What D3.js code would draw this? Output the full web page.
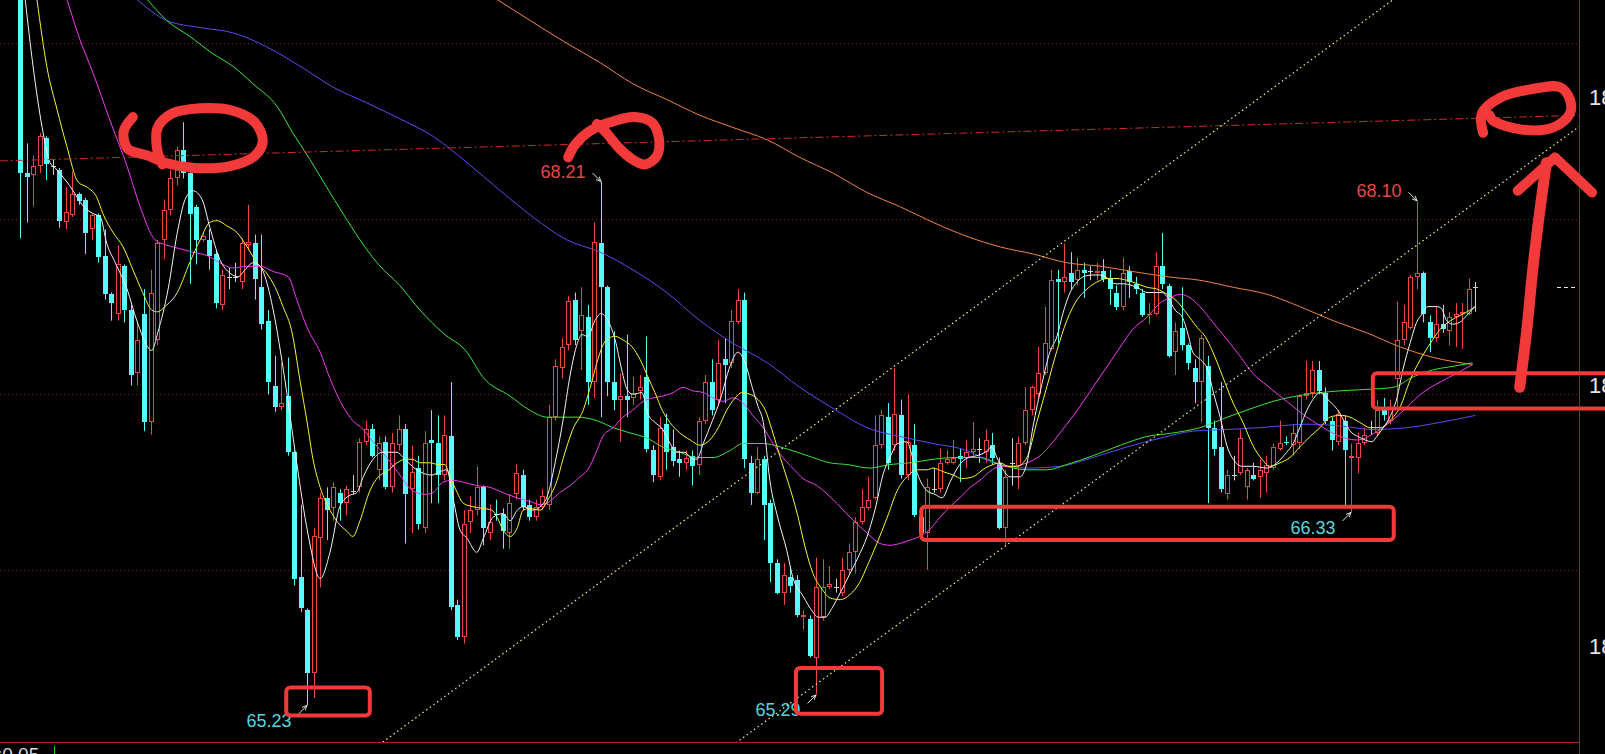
<!DOCTYPE html>
<html>
<head>
<meta charset="utf-8">
<script src="https://cdn.jsdelivr.net/npm/d3@7"></script>
<style>
html,body{margin:0;padding:0;background:#000;overflow:hidden;}
svg{display:block;}
</style>
</head>
<body>
<svg id="chart" width="1605" height="754"></svg>
<script>
// ---- daily candles (oldest first) ----
const opens = [69.36,68.26,68.25,68.30,68.46,68.30,68.28,67.98,68.02,68.14,68.11,67.94,68.02,67.79,67.57,67.46,67.73,67.48,67.12,67.46,
66.84,67.31,67.88,68.05,68.23,68.39,68.26,68.07,67.88,67.88,67.80,67.51,67.67,67.67,67.64,67.85,67.86,67.61,67.42,67.05,
66.93,66.99,66.67,65.96,65.77,65.41,66.18,66.41,66.35,66.44,66.38,66.45,66.47,66.73,66.80,66.57,66.73,66.47,66.71,66.80,
66.46,66.58,66.24,66.74,66.72,66.54,66.76,65.80,65.62,66.27,66.34,66.47,66.21,66.32,66.32,66.21,66.43,66.54,66.37,66.30,
66.36,66.37,66.87,67.15,67.28,67.54,67.36,67.44,67.07,67.86,67.61,67.07,66.97,66.99,66.98,67.02,67.10,66.68,66.53,66.83,
66.70,66.63,66.61,66.65,66.60,66.85,67.07,66.97,67.20,67.18,67.41,67.54,66.61,66.44,66.63,66.38,66.04,65.87,65.96,65.94,
65.73,65.72,65.50,65.73,65.90,65.90,65.87,66.00,66.10,66.27,66.35,66.41,66.71,66.87,66.71,66.88,66.54,66.71,66.30,66.21,
66.46,66.46,66.61,66.61,66.65,66.64,66.67,66.69,66.67,66.71,66.61,66.24,66.61,66.59,66.72,66.91,67.00,67.12,67.26,67.66,
67.64,67.69,67.65,67.71,67.70,67.69,67.70,67.66,67.58,67.50,67.70,67.63,67.58,67.45,67.46,67.73,67.62,67.24,67.38,67.28,
67.15,67.07,67.16,66.81,66.70,66.43,66.54,66.55,66.47,66.54,66.53,66.55,66.58,66.69,66.73,66.71,66.72,66.99,67.01,67.14,
67.01,66.85,66.73,66.85,66.64,66.64,66.72,66.80,66.78,66.91,66.85,67.09,67.31,67.38,67.67,67.69,67.41,67.32,67.40,67.36,
67.44,67.46,67.46,67.61];
const highs = [69.42,68.43,68.36,68.49,68.47,68.34,68.29,68.18,68.27,68.15,68.12,68.03,68.03,67.94,67.58,67.85,67.74,67.51,67.42,67.60,
67.71,67.88,68.11,68.28,68.41,68.55,68.28,68.08,67.92,67.94,67.82,67.71,67.72,67.75,67.89,68.08,67.91,67.91,67.48,67.22,
67.18,67.21,66.68,66.37,65.78,66.24,66.44,66.47,66.50,66.46,66.48,66.54,66.75,66.85,66.83,66.76,66.76,66.78,66.88,66.83,
66.71,66.65,66.79,66.91,66.88,66.88,67.07,65.83,66.34,66.42,66.59,66.48,66.37,66.40,66.35,66.43,66.60,66.57,66.40,66.40,
66.46,66.94,67.20,67.32,67.56,67.58,67.61,67.51,67.98,68.21,67.62,67.36,67.12,67.34,67.10,67.11,67.33,66.71,66.87,66.89,
66.80,66.68,66.68,66.68,66.87,67.11,67.20,67.31,67.32,67.48,67.60,67.58,66.65,66.70,66.65,66.40,66.06,66.04,66.02,65.97,
65.77,65.74,66.07,66.06,66.02,65.95,66.07,66.15,66.30,66.46,66.53,66.88,66.91,66.95,67.15,66.97,67.00,66.83,66.33,66.52,
66.58,66.69,66.68,66.74,66.69,66.74,66.84,66.75,66.80,66.78,66.64,66.57,66.75,66.76,67.04,67.05,67.27,67.50,67.71,67.71,
67.86,67.81,67.78,67.75,67.73,67.75,67.77,67.71,67.62,67.78,67.73,67.67,67.60,67.52,67.81,67.92,67.63,67.41,67.61,67.29,
67.20,67.34,67.22,66.85,67.07,66.57,66.65,66.80,66.58,66.61,66.63,66.65,66.72,66.85,66.76,66.83,67.00,67.19,67.19,67.19,
67.04,66.87,66.91,66.88,66.72,66.78,66.81,66.85,66.97,66.98,66.97,67.53,67.51,67.68,68.10,67.70,67.45,67.50,67.51,67.47,
67.52,67.52,67.66,67.64];
const lows = [67.89,67.98,68.07,68.26,68.22,68.25,67.95,67.94,68.01,68.08,67.80,67.88,67.75,67.54,67.42,67.42,67.41,67.05,67.05,66.79,
66.77,67.28,67.77,68.02,68.19,68.23,67.63,67.74,67.87,67.71,67.49,67.48,67.60,67.64,67.60,67.82,67.54,67.37,67.00,66.90,
66.91,66.65,65.91,65.76,65.23,65.27,65.90,66.17,66.28,66.28,66.31,66.43,66.44,66.71,66.64,66.51,66.46,66.44,66.68,66.15,
66.21,66.23,66.21,66.38,66.38,66.51,65.77,65.60,65.58,66.21,66.31,66.14,66.17,66.28,66.12,66.12,66.40,66.34,66.28,66.28,
66.34,66.34,66.85,67.09,67.25,67.28,67.14,66.94,66.98,66.87,66.99,66.91,66.73,66.87,66.94,66.97,66.67,66.50,66.51,66.57,
66.59,66.53,66.57,66.48,66.54,66.83,66.88,66.94,66.95,67.15,67.40,66.58,66.37,66.43,66.17,65.93,65.86,65.80,65.87,65.73,
65.66,65.50,65.29,65.71,65.89,65.87,65.85,65.97,65.98,66.26,66.34,66.40,66.69,66.57,66.68,66.52,66.51,66.30,66.20,66.00,
66.44,66.44,66.60,66.60,66.50,66.58,66.65,66.61,66.61,66.60,66.23,66.14,66.48,66.46,66.71,66.88,66.98,67.11,67.25,67.29,
67.58,67.60,67.62,67.55,67.65,67.65,67.64,67.51,67.48,67.48,67.55,67.57,67.44,67.40,67.45,67.60,67.21,67.11,67.25,67.14,
66.95,66.84,66.38,66.65,66.44,66.40,66.51,66.54,66.40,66.51,66.41,66.44,66.57,66.68,66.71,66.65,66.69,66.97,66.98,67.00,
66.83,66.68,66.71,66.35,66.33,66.55,66.71,66.77,66.76,66.85,66.83,66.91,67.28,67.37,67.60,67.41,67.24,67.30,67.35,67.28,
67.27,67.26,67.45,67.47];
const closes = [68.26,68.24,68.30,68.47,68.31,68.30,67.99,68.04,68.14,68.10,67.92,68.02,67.78,67.57,67.52,67.74,67.48,67.11,67.31,66.84,
67.58,67.86,68.05,68.23,68.39,68.26,68.03,67.88,67.90,67.79,67.52,67.68,67.67,67.67,67.86,67.87,67.66,67.40,67.07,66.93,
66.95,66.67,65.95,65.78,65.41,66.19,66.41,66.34,66.47,66.38,66.46,66.45,66.73,66.80,66.65,66.72,66.47,66.72,66.80,66.43,
66.56,66.26,66.72,66.72,66.54,66.77,65.79,65.62,66.26,66.34,66.47,66.24,66.27,66.31,66.22,66.38,66.55,66.36,66.30,66.36,
66.42,66.87,67.16,67.27,67.53,67.31,67.45,67.07,67.87,67.61,67.07,66.97,66.99,66.97,67.01,67.04,66.69,66.54,66.81,66.67,
66.62,66.61,66.64,66.59,66.85,67.07,66.91,67.18,67.17,67.42,67.54,66.63,66.44,66.63,66.37,66.04,65.87,65.97,65.91,65.74,
65.74,65.51,65.90,65.90,65.92,65.90,66.00,66.10,66.27,66.36,66.40,66.71,66.88,66.61,66.89,66.54,66.73,66.31,66.21,66.47,
66.46,66.61,66.63,66.64,66.63,66.67,66.69,66.69,66.74,66.64,66.24,66.53,66.61,66.72,66.91,67.04,67.12,67.29,67.65,67.64,
67.67,67.64,67.71,67.69,67.70,67.70,67.66,67.60,67.50,67.69,67.64,67.60,67.45,67.46,67.73,67.63,67.22,67.36,67.28,67.18,
67.07,67.32,66.81,66.69,66.46,66.54,66.54,66.75,66.57,66.52,66.57,66.60,66.70,66.72,66.72,66.78,66.99,67.01,67.14,67.02,
66.85,66.74,66.89,66.68,66.65,66.72,66.77,66.80,66.91,66.88,66.93,67.31,67.41,67.67,67.69,67.46,67.32,67.40,67.37,67.44,
67.46,67.47,67.60,67.61];

// ---- moving averages, [candle index, price] ----
const ma5 = [[0.8,69.25],[2.0,68.87],[3.4,68.52],[4.6,68.32],[5.4,68.29],[7.2,68.21],[10.3,68.05],[11.2,68.03],[12.3,68.01],[13.3,67.86],[14.6,67.75],[16.4,67.60],[17.9,67.42],[20.2,67.25],[21.1,67.35],[22.7,67.60],[24.1,67.92],[25.3,68.11],[26.5,68.16],[27.9,68.11],[29.1,67.95],[30.6,67.77],[32.2,67.69],[33.4,67.67],[34.5,67.71],[35.7,67.75],[36.8,67.73],[37.8,67.64],[38.8,67.48],[40.6,67.08],[42.4,66.61],[44.1,66.21],[46.0,65.95],[47.5,66.10],[49.0,66.36],[50.3,66.42],[51.6,66.44],[52.6,66.53],[54.1,66.63],[55.5,66.67],[57.8,66.67],[58.7,66.64],[60.1,66.59],[61.8,66.55],[63.1,66.54],[64.4,66.56],[65.4,66.57],[66.4,66.40],[67.4,66.23],[68.5,66.18],[70.0,66.10],[71.0,66.18],[72.5,66.30],[74.0,66.32],[75.1,66.28],[76.2,66.34],[77.1,66.36],[78.6,66.34],[79.7,66.36],[80.8,66.42],[82.0,66.61],[83.2,66.85],[84.3,67.11],[85.4,67.29],[86.1,67.34],[87.0,67.33],[88.1,67.42],[89.0,67.46],[90.1,67.42],[91.2,67.31],[92.2,67.14],[93.0,67.03],[93.9,67.00],[95.3,67.01],[96.2,66.89],[97.3,66.84],[98.5,66.80],[99.6,66.72],[100.7,66.67],[101.9,66.67],[102.7,66.64],[103.7,66.63],[104.7,66.72],[106.1,66.85],[107.3,66.97],[108.8,67.16],[110.0,67.24],[111.1,67.18],[112.2,67.04],[113.1,66.93],[113.9,66.84],[114.9,66.51],[116.1,66.30],[117.5,66.11],[118.4,65.96],[120.0,65.85],[121.5,65.76],[122.3,65.73],[123.4,65.73],[124.4,65.78],[125.7,65.87],[127.2,65.98],[128.4,66.07],[129.8,66.19],[131.0,66.34],[132.3,66.55],[133.3,66.64],[134.5,66.72],[135.9,66.73],[136.7,66.65],[137.5,66.55],[139.0,66.45],[140.2,66.43],[141.3,66.41],[142.5,66.50],[144.0,66.60],[145.3,66.64],[146.6,66.65],[147.9,66.67],[148.9,66.70],[149.7,66.64],[150.5,66.58],[151.7,66.53],[153.2,66.53],[154.3,66.61],[155.2,66.81],[156.6,67.06],[157.8,67.24],[158.9,67.33],[159.8,67.46],[160.9,67.58],[162.0,67.64],[162.9,67.67],[164.4,67.68],[165.5,67.68],[166.7,67.66],[167.8,67.63],[169.0,67.63],[170.4,67.62],[171.6,67.60],[172.7,67.58],[174.2,67.58],[175.0,67.58],[175.9,67.55],[177.0,67.48],[178.1,67.44],[179.0,67.34],[179.7,67.24],[180.8,67.20],[182.0,67.14],[182.8,67.02],[183.9,66.87],[185.0,66.70],[185.9,66.63],[187.3,66.59],[188.9,66.59],[191.1,66.58],[192.6,66.61],[194.1,66.67],[195.1,66.72],[196.1,66.81],[197.2,66.91],[198.1,66.97],[199.2,67.01],[200.4,66.97],[201.5,66.93],[202.3,66.89],[203.0,66.84],[204.1,66.78],[205.0,66.76],[206.1,66.74],[207.2,66.73],[207.9,66.76],[208.9,66.81],[209.9,66.87],[211.0,66.98],[211.9,67.14],[213.0,67.29],[214.0,67.41],[214.9,67.46],[215.7,67.50],[217.1,67.50],[217.8,67.49],[218.6,67.42],[219.5,67.40],[220.6,67.41],[221.7,67.45],[222.9,67.50]];
const ma10 = [[2.6,69.25],[4.1,68.87],[5.7,68.62],[7.2,68.41],[8.9,68.21],[10.3,68.18],[11.8,68.12],[12.7,68.03],[14.3,67.92],[15.8,67.84],[17.3,67.71],[18.8,67.58],[20.2,67.48],[21.1,67.47],[22.2,67.50],[24.1,67.58],[26.0,67.75],[27.6,67.88],[29.1,67.98],[30.2,67.99],[31.7,67.96],[33.3,67.92],[34.8,67.84],[36.3,67.75],[37.8,67.69],[39.1,67.61],[40.3,67.50],[41.7,67.35],[42.9,67.08],[44.0,66.84],[44.9,66.63],[46.0,66.47],[47.5,66.34],[48.7,66.27],[50.1,66.22],[51.0,66.19],[52.1,66.28],[53.6,66.45],[54.9,66.53],[56.2,66.56],[57.8,66.61],[59.0,66.63],[60.1,66.63],[61.3,66.61],[62.8,66.61],[64.1,66.60],[65.1,66.60],[65.9,66.53],[67.0,66.44],[67.9,66.38],[69.4,66.36],[70.9,66.35],[72.3,66.34],[73.1,66.30],[74.0,66.23],[75.1,66.19],[76.2,66.24],[77.1,66.34],[78.1,66.35],[79.7,66.34],[80.9,66.40],[82.3,66.51],[83.2,66.63],[84.7,66.80],[86.3,66.91],[87.6,67.07],[88.4,67.18],[89.2,67.27],[90.1,67.32],[91.2,67.33],[92.4,67.31],[93.8,67.27],[95.0,67.20],[96.2,67.10],[97.3,67.01],[98.4,66.91],[99.6,66.84],[101.1,66.78],[102.7,66.74],[104.2,66.71],[105.7,66.74],[107.0,66.81],[108.3,66.91],[109.6,66.98],[110.6,67.01],[111.9,67.00],[113.1,66.97],[114.2,66.91],[115.2,66.80],[116.5,66.64],[117.7,66.50],[119.1,66.32],[120.3,66.13],[121.5,65.98],[122.9,65.89],[124.1,65.84],[125.7,65.83],[127.2,65.86],[128.7,65.93],[129.8,66.02],[131.3,66.15],[132.9,66.30],[134.4,66.45],[135.9,66.53],[137.5,66.57],[139.0,66.57],[139.9,66.58],[141.4,66.56],[143.0,66.54],[144.3,66.52],[146.0,66.53],[147.9,66.58],[149.1,66.60],[150.2,66.61],[151.4,66.59],[152.8,66.59],[154.3,66.64],[155.8,66.84],[157.4,67.05],[158.9,67.25],[160.4,67.42],[162.0,67.54],[163.5,67.60],[165.0,67.64],[166.6,67.66],[168.1,67.66],[169.6,67.65],[171.2,67.63],[172.7,67.61],[174.2,67.60],[175.8,67.57],[177.3,67.53],[178.8,67.46],[180.4,67.38],[181.6,67.33],[182.8,67.24],[184.3,67.10],[185.9,66.95],[187.4,66.84],[188.9,66.71],[190.3,66.63],[191.5,66.59],[193.1,66.61],[194.6,66.64],[196.1,66.70],[197.7,66.76],[199.2,66.81],[200.7,66.87],[202.3,66.88],[203.8,66.87],[205.3,66.84],[206.9,66.81],[208.4,66.81],[209.9,66.85],[211.5,66.93],[213.0,67.08],[214.6,67.20],[216.1,67.29],[217.6,67.37],[219.2,67.42],[220.7,67.45],[222.2,67.48],[223.0,67.50]];
const ma20 = [[7.2,69.25],[9.2,69.02],[11.2,68.83],[13.8,68.56],[16.4,68.30],[18.4,68.07],[20.7,67.88],[22.5,67.85],[24.5,67.83],[26.5,67.81],[28.7,67.79],[30.6,67.75],[32.6,67.72],[34.8,67.73],[36.8,67.73],[38.8,67.70],[41.1,67.67],[42.4,67.54],[44.0,67.38],[46.0,67.24],[47.5,67.09],[49.5,66.93],[51.0,66.85],[52.6,66.80],[54.1,66.73],[56.2,66.64],[58.2,66.54],[60.2,66.45],[62.1,66.43],[63.3,66.44],[64.8,66.50],[66.2,66.51],[67.9,66.50],[70.0,66.48],[72.0,66.47],[74.0,66.44],[76.2,66.41],[78.1,66.39],[80.0,66.37],[81.2,66.39],[82.7,66.44],[84.3,66.48],[85.8,66.53],[87.0,66.57],[88.4,66.68],[89.3,66.76],[90.9,66.81],[92.4,66.87],[93.9,66.91],[95.5,66.96],[97.0,66.98],[98.5,66.99],[100.1,67.01],[101.6,67.04],[103.1,67.02],[104.7,67.01],[106.2,66.98],[107.7,66.96],[109.3,66.98],[110.8,66.95],[112.3,66.88],[113.9,66.81],[115.4,66.72],[116.9,66.64],[118.4,66.58],[120.0,66.52],[122.1,66.48],[124.6,66.40],[127.2,66.30],[129.8,66.21],[131.8,66.15],[133.3,66.14],[134.8,66.15],[136.4,66.17],[137.9,66.19],[139.4,66.23],[141.0,66.30],[142.5,66.36],[144.0,66.41],[145.6,66.47],[147.1,66.51],[148.6,66.56],[150.2,66.59],[152.2,66.59],[154.3,66.61],[156.3,66.65],[158.3,66.73],[160.4,66.83],[162.4,66.93],[164.4,67.04],[166.6,67.16],[168.6,67.27],[170.5,67.37],[172.7,67.44],[174.7,67.52],[176.2,67.55],[177.8,67.57],[179.3,67.55],[180.8,67.50],[182.8,67.41],[185.0,67.31],[186.9,67.22],[188.9,67.12],[191.1,67.05],[194.1,66.96],[197.2,66.87],[199.7,66.81],[202.3,66.76],[204.9,66.74],[208.4,66.80],[211.5,66.89],[214.6,67.00],[217.6,67.07],[220.2,67.12],[222.6,67.17]];
const ma60 = [[19.5,69.25],[22.5,69.13],[26.0,69.04],[29.6,68.94],[32.6,68.87],[35.7,68.77],[39.4,68.64],[41.8,68.49],[44.4,68.34],[47.0,68.18],[49.5,68.03],[52.1,67.88],[54.7,67.75],[58.2,67.62],[61.3,67.48],[64.8,67.35],[68.5,67.24],[70.9,67.10],[75.1,66.99],[78.1,66.91],[80.8,66.87],[83.2,66.87],[85.4,66.87],[88.4,66.85],[90.9,66.81],[93.5,66.78],[96.1,66.75],[98.5,66.70],[101.1,66.67],[103.7,66.64],[106.2,66.64],[108.8,66.68],[110.8,66.72],[113.9,66.72],[116.5,66.70],[119.1,66.67],[121.5,66.64],[124.1,66.61],[126.7,66.60],[130.2,66.58],[133.3,66.60],[136.4,66.61],[139.9,66.63],[143.6,66.64],[147.1,66.64],[150.2,66.60],[154.3,66.57],[157.4,66.57],[160.4,66.60],[164.4,66.65],[168.6,66.71],[172.7,66.76],[176.7,66.78],[180.8,66.81],[185.0,66.87],[188.0,66.91],[192.0,66.96],[197.2,67.00],[202.3,67.02],[207.3,67.03],[210.4,67.04],[213.5,67.10],[216.6,67.14],[219.6,67.16],[222.6,67.18]];
const ma120 = [[17.9,69.25],[22.5,69.13],[27.6,69.09],[32.6,69.06],[37.8,68.98],[42.9,68.87],[48.0,68.75],[53.2,68.66],[58.2,68.57],[63.3,68.47],[68.5,68.32],[73.6,68.16],[78.6,68.01],[83.8,67.88],[88.9,67.81],[93.9,67.71],[99.1,67.58],[104.2,67.42],[109.3,67.29],[114.5,67.18],[119.5,67.04],[124.6,66.92],[129.8,66.81],[134.8,66.76],[139.9,66.72],[145.1,66.68],[149.1,66.61],[154.3,66.58],[159.4,66.59],[164.4,66.64],[169.6,66.70],[174.7,66.75],[179.7,66.79],[185.0,66.80],[190.0,66.81],[197.2,66.83],[202.3,66.82],[207.3,66.80],[212.5,66.81],[217.6,66.84],[223.0,66.88]];
const ma250 = [[73.1,69.25],[78.6,69.12],[83.8,69.00],[88.9,68.89],[93.9,68.77],[99.1,68.68],[104.2,68.59],[109.3,68.52],[114.5,68.45],[119.5,68.35],[124.6,68.26],[129.8,68.15],[134.8,68.07],[139.9,67.98],[145.1,67.90],[150.2,67.84],[155.2,67.80],[160.4,67.75],[165.5,67.73],[170.5,67.70],[175.8,67.67],[180.8,67.65],[185.9,67.61],[191.1,67.57],[196.1,67.50],[201.2,67.42],[206.4,67.35],[211.5,67.27],[216.6,67.21],[222.6,67.17]];

// ---- price grid and side labels ----
const gridPrices = [66, 67, 68, 69];
const rightAxisLabels = ["18", "18", "18"];
const rightAxisLabelPrices = [68.65, 67.01, 65.52];
const footerText = ":0.05";

// ---- marked extremes ----
const extremeIndex = [89, 214, 44, 122, 204];
const extremeValue = [68.21, 68.10, 65.23, 65.29, 66.33];
const extremeKind  = ["high", "high", "low", "low", "low"];

// ---- drawn lines: [index, price] endpoints ----
const levelLine = [[-3.1, 68.33], [239.0, 68.59]];
const channelUpper = [[58.2, 65.09], [180.8, 68.44]];
const channelLower = [[110.3, 65.03], [238.7, 68.52]];

// ---- freehand marks, [index, price] ----
const markLoopA = [[17.3,68.58],[15.9,68.50],[16.5,68.40],[19.6,68.36],[22.2,68.32],[26.8,68.29],[32.2,68.30],[36.0,68.36],[37.2,68.44],[36.0,68.55],[32.2,68.62],[27.6,68.63],[23.3,68.60],[21.1,68.52],[21.0,68.40],[21.8,68.31]];
const markLoopB = [[84.0,68.35],[85.0,68.42],[87.3,68.50],[90.4,68.55],[94.2,68.58],[96.8,68.55],[97.9,68.46],[97.6,68.36],[95.8,68.31],[93.8,68.34],[91.9,68.40],[89.6,68.50],[88.4,68.54]];
const markLoopC = [[224.2,68.49],[224.0,68.60],[226.8,68.69],[231.8,68.74],[236.0,68.75],[237.5,68.68],[237.5,68.60],[234.9,68.52],[229.9,68.51],[225.7,68.56],[225.2,68.59]];
const markArrowShaft = [[229.8,67.04],[230.9,67.37],[231.8,67.71],[232.9,68.05],[233.9,68.32]];
const markArrowHead = [[229.5,68.16],[235.2,68.35],[240.9,68.15]];
const markBoxes = [
  [[40.8,65.33],[53.6,65.17]],
  [[118.9,65.44],[132.1,65.18]],
  [[138.1,66.36],[210.5,66.17]],
  [[207.3,67.12],[243.6,66.92]]
];

// ---- colours ----
const RED = "#f04444", CYAN = "#54fcfc", DOJI = "#d0d0d0";
const MARK = "#f23a3a";

const W = 1605, H = 754, PLOT_R = 1579, PLOT_B = 742;
const svg = d3.select("#chart");
svg.append("rect").attr("width", W).attr("height", H).attr("fill", "#000");

const x = d3.scaleLinear().domain([0, closes.length - 1]).range([20, 1475.3]);
const y = d3.scaleLinear().domain([65.019, 69.247]).range([PLOT_B, 0]);

svg.append("defs").append("clipPath").attr("id", "plotClip")
  .append("rect").attr("x", 0).attr("y", 0).attr("width", PLOT_R).attr("height", PLOT_B);

const plot = svg.append("g").attr("clip-path", "url(#plotClip)");

// grid
plot.append("g").selectAll("line").data(gridPrices).join("line")
  .attr("x1", 0).attr("x2", PLOT_R - 2)
  .attr("y1", d => Math.round(y(d)) + 0.5).attr("y2", d => Math.round(y(d)) + 0.5)
  .attr("stroke", "#6a2626").attr("stroke-dasharray", "1,3");

// candles
const candles = closes.map((c, i) => ({ i, o: opens[i], h: highs[i], l: lows[i], c }));
const cg = plot.append("g");
const kind = d => d.c > d.o ? "up" : (d.c < d.o ? "down" : "flat");
const col = d => ({ up: RED, down: CYAN, flat: DOJI })[kind(d)];
const cx = d => Math.round(x(d.i)) + 0.5;

cg.selectAll("line.wick").data(candles).join("line").attr("class", "wick")
  .attr("x1", cx).attr("x2", cx)
  .attr("y1", d => y(d.h)).attr("y2", d => y(d.l))
  .attr("stroke", col).attr("stroke-width", 1);

cg.selectAll("rect.down").data(candles.filter(d => kind(d) === "down")).join("rect").attr("class", "down")
  .attr("x", d => cx(d) - 2.5)
  .attr("y", d => Math.round(y(d.o)))
  .attr("width", 5)
  .attr("height", d => Math.max(1, Math.round(y(d.c)) - Math.round(y(d.o))))
  .attr("fill", CYAN);

cg.selectAll("rect.up").data(candles.filter(d => kind(d) === "up")).join("rect").attr("class", "up")
  .attr("x", d => cx(d) - 2)
  .attr("y", d => Math.round(y(d.c)) + 0.5)
  .attr("width", 4)
  .attr("height", d => Math.max(0.01, Math.round(y(d.o)) - Math.round(y(d.c)) - 1))
  .attr("fill", "#000").attr("stroke", RED).attr("stroke-width", 1);

cg.selectAll("line.flat").data(candles.filter(d => kind(d) === "flat")).join("line").attr("class", "flat")
  .attr("x1", d => cx(d) - 2.5).attr("x2", d => cx(d) + 2.5)
  .attr("y1", d => Math.round(y(d.o)) + 0.5).attr("y2", d => Math.round(y(d.o)) + 0.5)
  .attr("stroke", DOJI);

// moving averages
const maLine = d3.line().x(d => x(d[0])).y(d => y(d[1])).curve(d3.curveMonotoneX);
const maSeries = [
  { pts: ma250, color: "#f08440" },
  { pts: ma120, color: "#5a4cf0" },
  { pts: ma60,  color: "#3ee23e" },
  { pts: ma20,  color: "#f03cf0" },
  { pts: ma10,  color: "#f5f53a" },
  { pts: ma5,   color: "#f4f4f4" }
];
plot.append("g").selectAll("path").data(maSeries).join("path")
  .attr("d", d => maLine(d.pts)).attr("fill", "none")
  .attr("stroke", d => d.color).attr("stroke-width", 1);

// drawn level and channel lines
function extend(seg) {
  const [[i0, p0], [i1, p1]] = seg;
  const k = (p1 - p0) / (i1 - i0);
  return [[-10, p0 + k * (-10 - i0)], [260, p0 + k * (260 - i0)]];
}
const straight = d3.line().x(d => x(d[0])).y(d => y(d[1]));
plot.append("path").attr("d", straight(levelLine)).attr("fill", "none")
  .attr("stroke", "#d02a2a").attr("stroke-width", 1).attr("stroke-dasharray", "8,3,2,3");
plot.append("g").selectAll("path").data([channelUpper, channelLower]).join("path")
  .attr("d", d => straight(extend(d))).attr("fill", "none")
  .attr("stroke", "#f0f08a").attr("stroke-width", 1.2).attr("stroke-dasharray", "1.5,3");

// frame
svg.append("line").attr("x1", 0).attr("x2", PLOT_R).attr("y1", PLOT_B + 0.5).attr("y2", PLOT_B + 0.5)
  .attr("stroke", "#b01c1c");
svg.append("line").attr("x1", PLOT_R + 0.5).attr("x2", PLOT_R + 0.5).attr("y1", 0).attr("y2", H)
  .attr("stroke", "#b01c1c");

// last price marker
const lastY = Math.round(y(closes[closes.length - 1])) + 0.5;
svg.append("line").attr("x1", 1557).attr("x2", 1577).attr("y1", lastY).attr("y2", lastY)
  .attr("stroke", "#e8e8e8").attr("stroke-dasharray", "4,3");

// right axis labels (cut by the window edge)
svg.append("g").selectAll("text").data(rightAxisLabels).join("text")
  .attr("x", 1589).attr("y", (d, k) => y(rightAxisLabelPrices[k]))
  .attr("fill", "#e6e6e6").attr("font-family", "'Liberation Sans', Arial, sans-serif")
  .attr("font-size", 22).text(d => d);

// footer text, mostly below the window
svg.append("text").attr("x", -3).attr("y", 761).attr("fill", "#d8d8d8")
  .attr("font-family", "'Liberation Sans', Arial, sans-serif").attr("font-size", 19).text(footerText);
svg.append("line").attr("x1", 54.5).attr("x2", 54.5).attr("y1", 746).attr("y2", 754).attr("stroke", "#2ec02e");

// extreme labels with small arrows
const arrowHead = svg.append("defs").append("marker").attr("id", "tip")
  .attr("viewBox", "0 0 6 6").attr("refX", 5.5).attr("refY", 3)
  .attr("markerWidth", 6).attr("markerHeight", 6).attr("orient", "auto");
arrowHead.append("path").attr("d", "M0,0.5 L5.5,3 L0,5.5").attr("fill", "none").attr("stroke", "#fff").attr("stroke-width", 0.9);

const extremes = extremeIndex.map((i, k) => ({ i, v: extremeValue[k], kind: extremeKind[k] }));
const lg = svg.append("g").attr("font-family", "'Liberation Sans', Arial, sans-serif").attr("font-size", 18);
extremes.forEach(d => {
  const px = Math.round(x(d.i)) + 0.5, py = y(d.v);
  const hi = d.kind === "high";
  lg.append("line")
    .attr("x1", px - 9).attr("y1", hi ? py - 9 : py + 9)
    .attr("x2", px - 0.5).attr("y2", hi ? py - 0.5 : py + 0.5)
    .attr("stroke", "#fff").attr("stroke-width", 0.9).attr("marker-end", "url(#tip)");
  lg.append("text").attr("x", px - 16).attr("y", hi ? py - 4 : py + 22)
    .attr("text-anchor", "end").attr("fill", hi ? "#e84646" : "#56d4dc")
    .text(d.v.toFixed(2));
});

// freehand marks
const marks = svg.append("g").attr("fill", "none").attr("stroke", MARK)
  .attr("stroke-linecap", "round").attr("stroke-linejoin", "round");
const smooth = d3.line().x(d => x(d[0])).y(d => y(d[1])).curve(d3.curveCatmullRom.alpha(0.5));
marks.selectAll("path.loop").data([markLoopA, markLoopB, markLoopC]).join("path").attr("class", "loop")
  .attr("d", smooth).attr("stroke-width", 10);
marks.append("path").attr("d", smooth(markArrowShaft)).attr("stroke-width", 11);
marks.append("path").attr("d", straight(markArrowHead)).attr("stroke-width", 10);
marks.selectAll("rect").data(markBoxes).join("rect")
  .attr("x", d => x(d[0][0])).attr("y", d => y(d[0][1]))
  .attr("width", d => x(d[1][0]) - x(d[0][0])).attr("height", d => y(d[1][1]) - y(d[0][1]))
  .attr("rx", 4).attr("stroke-width", 4);
</script>
</body>
</html>
